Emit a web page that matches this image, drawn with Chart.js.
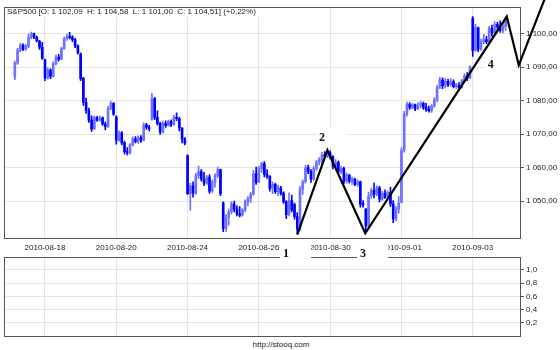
<!DOCTYPE html>
<html>
<head>
<meta charset="utf-8">
<script src="https://cdn.jsdelivr.net/npm/chart.js@4.4.1/dist/chart.umd.min.js"></script>
<style>
  body { margin: 0; background: #fff; }
  #wrap { position: relative; width: 560px; height: 350px; overflow: hidden; }
  #main { position: absolute; left: 0; top: 0; z-index: 2; }
  #lower { position: absolute; left: 0; top: 250px; z-index: 1; }
  #src { position: absolute; left: 0; width: 562px; top: 340px; line-height: 10px; text-align: center;
         font: 8px 'Liberation Sans', Arial, sans-serif; color: #222; }
</style>
</head>
<body>
<div id="wrap">
  <canvas id="lower" width="560" height="100"></canvas>
  <canvas id="main" width="560" height="270"></canvas>
  <div id="src">http://stooq.com</div>
</div>
<script>
// S&P500, 30 minute bars, 2010-08-17 .. 2010-09-03 (one row per session)
var open = [
  1087.0, 1091.2, 1095.1, 1096.6, 1095.4, 1096.2, 1098.9, 1100.0, 1099.0, 1097.8, 1096.0,
  1092.2, 1086.8, 1089.2, 1087.2, 1091.0, 1093.0, 1092.4, 1095.6, 1098.5, 1099.2, 1098.9, 1098.2, 1096.3,
  1093.8, 1086.6, 1079.5, 1077.0, 1074.2, 1071.6, 1075.0, 1074.2, 1074.9, 1073.0, 1072.2, 1077.6, 1079.2,
  1075.2, 1068.2, 1070.4, 1067.4, 1064.8, 1064.5, 1066.8, 1068.6, 1067.8, 1069.0, 1068.2, 1072.8, 1072.0,
  1074.5, 1080.6, 1075.0, 1073.2, 1070.6, 1073.2, 1072.6, 1073.8, 1072.8, 1075.0, 1074.6, 1071.8, 1068.6,
  1063.6, 1052.2, 1054.6, 1052.4, 1057.6, 1058.8, 1056.6, 1055.4, 1057.2, 1053.0, 1055.6, 1057.6, 1059.4,
  1049.5, 1041.8, 1045.2, 1046.8, 1049.2, 1047.6, 1046.2, 1045.8, 1047.4, 1049.8, 1050.8, 1052.0, 1058.2,
  1055.8, 1059.8, 1061.2, 1058.0, 1057.4, 1053.8, 1055.0, 1052.8, 1054.0, 1052.4, 1049.8, 1046.0, 1050.2,
  1049.0, 1045.4, 1041.6, 1053.6, 1055.8, 1060.0, 1058.8, 1056.6, 1059.8, 1061.6, 1062.4, 1063.8, 1063.4,
  1064.4, 1063.2, 1060.4, 1061.6, 1058.8, 1059.8, 1056.0, 1057.8, 1056.0, 1056.6, 1055.0, 1055.8, 1049.0,
  1047.6, 1042.6, 1051.6, 1053.2, 1052.0, 1054.0, 1050.6, 1052.4, 1051.2, 1052.6, 1049.2, 1044.6, 1047.6,
  1049.7, 1065.2, 1076.0, 1078.8, 1078.0, 1078.8, 1077.6, 1078.6, 1079.2, 1078.0, 1077.4, 1077.0, 1078.4,
  1080.2, 1084.0, 1086.2, 1084.4, 1085.8, 1084.8, 1085.6, 1084.2, 1084.6, 1083.9, 1086.0, 1087.4, 1086.8,
  1104.6, 1095.0, 1101.8, 1095.4, 1097.6, 1098.2, 1097.6, 1101.6, 1100.2, 1102.8, 1102.0, 1101.0, 1102.09
];
var high = [
  1091.8, 1095.6, 1097.2, 1097.0, 1096.8, 1099.9, 1100.5, 1100.2, 1099.3, 1098.0, 1097.4,
  1092.4, 1089.8, 1089.5, 1091.6, 1093.6, 1093.8, 1096.0, 1099.0, 1099.8, 1100.4, 1099.4, 1098.6, 1096.7,
  1094.3, 1087.0, 1080.8, 1077.8, 1075.5, 1075.4, 1075.3, 1075.4, 1075.2, 1073.6, 1078.3, 1079.9, 1079.4,
  1075.5, 1071.0, 1070.8, 1067.9, 1066.0, 1067.2, 1069.2, 1069.3, 1069.5, 1069.6, 1073.4, 1073.2, 1072.6,
  1082.2, 1081.0, 1077.0, 1073.5, 1073.9, 1074.0, 1074.2, 1074.3, 1075.6, 1076.4, 1075.0, 1072.0, 1069.0,
  1063.8, 1055.3, 1055.8, 1058.3, 1060.5, 1059.4, 1058.6, 1057.6, 1057.9, 1056.3, 1058.2, 1060.2, 1059.6,
  1049.8, 1046.0, 1047.6, 1049.9, 1050.0, 1048.6, 1048.4, 1047.8, 1050.4, 1051.4, 1052.6, 1059.2, 1060.2,
  1060.4, 1061.7, 1061.8, 1059.4, 1057.6, 1055.8, 1055.4, 1054.8, 1054.4, 1052.8, 1050.2, 1052.5, 1051.8,
  1049.4, 1046.6, 1054.4, 1056.4, 1060.7, 1060.8, 1059.4, 1060.4, 1062.2, 1063.0, 1064.6, 1064.8, 1065.2,
  1065.0, 1063.6, 1062.4, 1062.0, 1060.4, 1060.2, 1058.4, 1058.0, 1057.2, 1056.9, 1056.4, 1056.0, 1050.2,
  1047.8, 1052.6, 1053.8, 1055.4, 1054.6, 1054.4, 1053.0, 1053.4, 1053.0, 1054.2, 1050.2, 1048.4, 1051.4,
  1066.0, 1076.8, 1079.6, 1079.4, 1079.2, 1079.0, 1079.4, 1079.8, 1079.6, 1079.2, 1078.4, 1078.8, 1081.0,
  1084.6, 1087.0, 1086.8, 1086.6, 1086.4, 1086.5, 1086.2, 1085.2, 1085.4, 1086.4, 1088.0, 1088.4, 1090.4,
  1105.1, 1102.8, 1102.0, 1098.4, 1099.8, 1099.2, 1102.2, 1102.6, 1103.6, 1103.4, 1103.8, 1103.2, 1104.58
];
var low = [
  1086.3, 1090.8, 1094.6, 1094.9, 1095.0, 1095.8, 1098.4, 1098.5, 1097.5, 1095.3, 1092.3,
  1086.0, 1086.4, 1086.6, 1087.0, 1090.7, 1091.8, 1092.2, 1095.3, 1098.0, 1098.4, 1097.6, 1095.8, 1093.9,
  1086.0, 1078.6, 1076.2, 1073.5, 1070.8, 1071.4, 1073.8, 1073.9, 1072.6, 1071.3, 1072.0, 1077.3, 1075.6,
  1067.0, 1067.8, 1066.8, 1064.0, 1063.8, 1064.0, 1066.5, 1067.4, 1067.2, 1067.5, 1068.0, 1071.4, 1071.0,
  1074.2, 1074.3, 1072.7, 1069.9, 1070.3, 1072.0, 1072.3, 1072.2, 1072.6, 1074.0, 1071.0, 1067.4, 1066.8,
  1052.0, 1047.3, 1051.2, 1052.0, 1056.8, 1056.0, 1054.6, 1055.0, 1052.3, 1052.6, 1054.2, 1057.0, 1051.6,
  1040.9, 1041.0, 1042.8, 1046.2, 1046.8, 1045.6, 1045.3, 1045.5, 1046.8, 1048.6, 1049.6, 1051.8, 1055.0,
  1055.5, 1058.6, 1057.2, 1056.8, 1053.0, 1052.2, 1052.3, 1051.6, 1051.8, 1049.3, 1044.8, 1045.6, 1046.8,
  1044.6, 1040.3, 1041.2, 1052.0, 1055.4, 1058.2, 1055.6, 1056.2, 1059.2, 1060.8, 1061.0, 1062.8, 1063.0,
  1062.6, 1059.6, 1059.8, 1058.0, 1058.2, 1055.2, 1055.4, 1055.4, 1055.0, 1054.6, 1054.4, 1048.2, 1048.2,
  1041.0, 1042.2, 1050.8, 1051.0, 1051.6, 1049.8, 1050.2, 1050.8, 1050.8, 1048.4, 1043.6, 1044.2, 1046.4,
  1049.5, 1064.6, 1075.4, 1077.4, 1077.6, 1077.0, 1077.2, 1077.8, 1077.4, 1076.8, 1076.6, 1076.5, 1078.0,
  1079.6, 1083.6, 1083.6, 1083.8, 1084.2, 1084.3, 1083.8, 1083.6, 1083.4, 1083.7, 1085.6, 1086.0, 1086.6,
  1093.2, 1094.8, 1094.6, 1095.0, 1097.0, 1097.0, 1097.2, 1099.2, 1099.8, 1101.2, 1100.4, 1100.2, 1101.00
];
var close = [
  1091.2, 1095.1, 1096.6, 1095.4, 1096.2, 1098.9, 1100.0, 1099.0, 1097.8, 1096.0, 1092.6,
  1086.8, 1089.2, 1087.2, 1091.0, 1093.0, 1092.4, 1095.6, 1098.5, 1099.2, 1098.9, 1098.2, 1096.3, 1094.3,
  1086.6, 1079.5, 1077.0, 1074.2, 1071.6, 1075.0, 1074.2, 1074.9, 1073.0, 1072.2, 1077.6, 1079.2, 1076.0,
  1068.2, 1070.4, 1067.4, 1064.8, 1064.5, 1066.8, 1068.6, 1067.8, 1069.0, 1068.2, 1072.8, 1072.0, 1071.7,
  1080.6, 1075.0, 1073.2, 1070.6, 1073.2, 1072.6, 1073.8, 1072.8, 1075.0, 1074.6, 1071.8, 1068.6, 1067.3,
  1052.2, 1054.6, 1052.4, 1057.6, 1058.8, 1056.6, 1055.4, 1057.2, 1053.0, 1055.6, 1057.6, 1059.4, 1052.2,
  1041.8, 1045.2, 1046.8, 1049.2, 1047.6, 1046.2, 1045.8, 1047.4, 1049.8, 1050.8, 1052.0, 1058.2, 1055.6,
  1059.8, 1061.2, 1058.0, 1057.4, 1053.8, 1055.0, 1052.8, 1054.0, 1052.4, 1049.8, 1046.0, 1050.2, 1047.4,
  1045.4, 1041.6, 1053.6, 1055.8, 1060.0, 1058.8, 1056.6, 1059.8, 1061.6, 1062.4, 1063.8, 1063.4, 1064.6,
  1063.2, 1060.4, 1061.6, 1058.8, 1059.8, 1056.0, 1057.8, 1056.0, 1056.6, 1055.0, 1055.8, 1049.0, 1048.9,
  1042.6, 1051.6, 1053.2, 1052.0, 1054.0, 1050.6, 1052.4, 1051.2, 1052.6, 1049.2, 1044.6, 1047.6, 1049.4,
  1065.2, 1076.0, 1078.8, 1078.0, 1078.8, 1077.6, 1078.6, 1079.2, 1078.0, 1077.4, 1077.0, 1078.4, 1080.3,
  1084.0, 1086.2, 1084.4, 1085.8, 1084.8, 1085.6, 1084.2, 1084.6, 1083.9, 1086.0, 1087.4, 1086.8, 1090.1,
  1095.0, 1101.8, 1095.4, 1097.6, 1098.2, 1097.6, 1101.6, 1100.2, 1102.8, 1102.0, 1101.0, 1102.1, 1104.51
];

// bar index of the first bar of every labelled session
var tickIdx = [11, 37, 63, 89, 115, 141, 167];
var tickLabels = ['2010-08-18', '2010-08-20', '2010-08-24', '2010-08-26', '2010-08-30', '2010-09-01', '2010-09-03'];
var priceTicks = [1050, 1060, 1070, 1080, 1090, 1100];
var lowerTicks = [0.2, 0.4, 0.6, 0.8, 1.0];

// hand drawn wave line (bar index, price) and its labels
var waveX = [103, 114, 127.8, 179.4, 183.8, 195.5];
var waveY = [1040.0, 1065.2, 1040.4, 1105.1, 1090.6, 1115.1];
var waveLabels = ['1', '2', '3', '4'];
var waveLabelX = [98.9, 112.0, 127.0, 173.6];
var waveLabelY = [1034.6, 1069.2, 1034.5, 1091.0];

var UP = '#7070ff', DOWN = '#0000ff', GRID = '#e4e4e4', FRAME = '#555';
var X_MIN = -3.95, X_MAX = 184.6;

Chart.defaults.font.family = "'Liberation Sans', Arial, sans-serif";
Chart.defaults.font.size = 8;
Chart.defaults.color = '#222';

function plFmt(v, d) {
  var s = v.toFixed(d).split('.');
  return s[0].replace(/\B(?=(\d{3})+(?!\d))/g, ' ') + ',' + s[1];
}

var n = close.length;
var header = 'S&P500 [O: ' + plFmt(open[n - 1], 2) + '  H: ' + plFmt(high[n - 1], 2) +
  '  L: ' + plFmt(low[n - 1], 2) + '  C: ' + plFmt(close[n - 1], 2) + '] (' +
  (close[n - 1] >= close[n - 2] ? '+' : '') + plFmt((close[n - 1] / close[n - 2] - 1) * 100, 2) + '%)';

var bodies = open.map(function (o, i) { return { x: i, y: [o, close[i]] }; });
var wicks = open.map(function (o, i) { return { x: i, y: [low[i], high[i]] }; });
var wave = waveX.map(function (x, i) { return { x: x, y: waveY[i] }; });

function candleColor(ctx) {
  var i = ctx.dataIndex;
  return close[i] >= open[i] ? UP : DOWN;
}

function frameRect(chart) {
  var a = chart.chartArea, ctx = chart.ctx;
  ctx.save();
  ctx.strokeStyle = FRAME;
  ctx.lineWidth = 1;
  var x0 = Math.round(a.left) + 0.5, x1 = Math.round(a.right) - 0.5;
  var y0 = Math.round(a.top) + 0.5, y1 = Math.floor(a.bottom) + 0.5;
  ctx.strokeRect(x0, y0, x1 - x0, y1 - y0);
  ctx.restore();
  return { x0: x0, y0: y0 };
}

var mainOverlay = {
  id: 'mainOverlay',
  beforeDatasetsDraw: function (chart) {
    var ctx = chart.ctx, sx = chart.scales.x, sy = chart.scales.y;
    var f = frameRect(chart);
    ctx.save();
    ctx.font = "8px 'Liberation Sans', Arial, sans-serif";
    var w = ctx.measureText(header).width;
    ctx.fillStyle = '#fff';
    ctx.fillRect(f.x0 + 0.5, f.y0 + 0.5, w + 5, 9);
    ctx.fillStyle = '#222';
    ctx.textBaseline = 'middle';
    ctx.fillText(header, f.x0 + 2.5, f.y0 + 4.5);

    ctx.font = "bold 12px 'Liberation Serif', 'DejaVu Serif', serif";
    ctx.textAlign = 'center';
    waveLabels.forEach(function (t, k) {
      var cx = sx.getPixelForValue(waveLabelX[k]), cy = sy.getPixelForValue(waveLabelY[k]);
      ctx.fillStyle = '#fff';
      ctx.fillRect(cx - 6, cy - 10, 31, 20);
      ctx.fillStyle = '#111';
      ctx.fillText(t, cx, cy + 1);
    });
    ctx.restore();
  }
};

var lowerOverlay = {
  id: 'lowerOverlay',
  afterDraw: function (chart) { frameRect(chart); }
};

function xScale(showLabels, height) {
  return {
    type: 'linear', min: X_MIN, max: X_MAX, offset: false,
    afterBuildTicks: function (a) { a.ticks = tickIdx.map(function (v) { return { value: v }; }); },
    afterFit: function (a) { a.height = height; },
    ticks: {
      display: showLabels, autoSkip: false, maxRotation: 0, padding: 4,
      callback: function (v) { return tickLabels[tickIdx.indexOf(v)]; }
    },
    grid: { color: GRID, drawTicks: false, offset: false },
    border: { display: false }
  };
}

new Chart(document.getElementById('main'), {
  type: 'bar',
  data: {
    datasets: [
      { type: 'line', data: wave, borderColor: '#000', borderWidth: 2.2, pointRadius: 0,
        fill: false, tension: 0, borderJoinStyle: 'miter', clip: false, order: 0 },
      { data: bodies, backgroundColor: candleColor, barThickness: 2, minBarLength: 1,
        grouped: false, order: 1 },
      { data: wicks, backgroundColor: candleColor, barThickness: 1, grouped: false, order: 2 }
    ]
  },
  options: {
    responsive: false,
    animation: false,
    layout: { padding: { left: 4, top: 4, right: 0, bottom: 0 } },
    plugins: { legend: { display: false }, tooltip: { enabled: false } },
    scales: {
      x: xScale(true, 31.5),
      y: {
        position: 'right', min: 1038.85, max: 1108.02,
        afterBuildTicks: function (a) { a.ticks = priceTicks.map(function (v) { return { value: v }; }); },
        afterFit: function (a) { a.width = 39; },
        ticks: { padding: 2, callback: function (v) { return plFmt(v, 2); } },
        grid: { color: GRID, tickColor: FRAME, tickLength: 3 },
        border: { display: false }
      }
    }
  },
  plugins: [mainOverlay]
});

new Chart(document.getElementById('lower'), {
  type: 'line',
  data: { datasets: [] },
  options: {
    responsive: false,
    animation: false,
    layout: { padding: { left: 4, top: 5, right: 0, bottom: 0 } },
    plugins: { legend: { display: false }, tooltip: { enabled: false } },
    scales: {
      x: xScale(false, 14),
      y: {
        position: 'right', min: 0, max: 1.2,
        afterBuildTicks: function (a) { a.ticks = lowerTicks.map(function (v) { return { value: v }; }); },
        afterFit: function (a) { a.width = 39; },
        ticks: { padding: 2, callback: function (v) { return plFmt(v, 1); } },
        grid: { color: GRID, tickColor: FRAME, tickLength: 3 },
        border: { display: false }
      }
    }
  },
  plugins: [lowerOverlay]
});
</script>
</body>
</html>
